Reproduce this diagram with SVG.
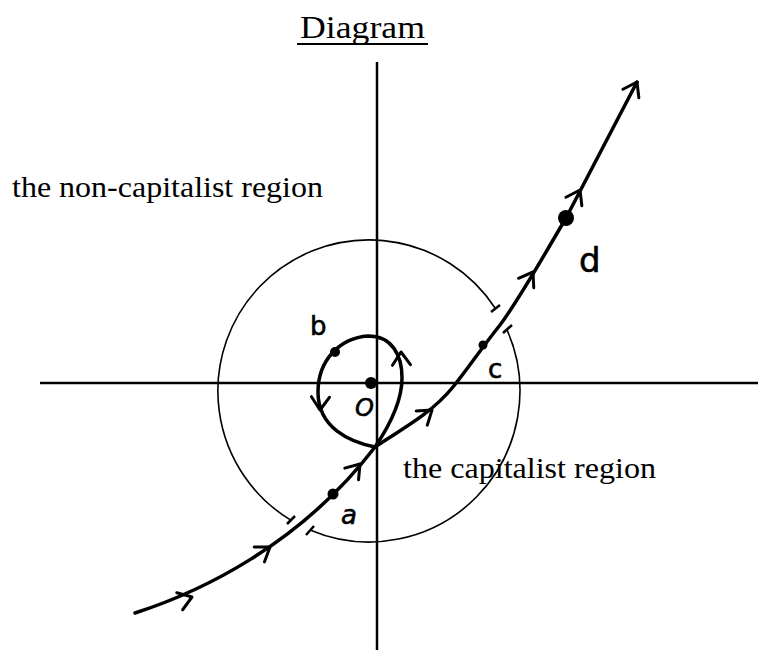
<svg xmlns="http://www.w3.org/2000/svg" width="758" height="650" viewBox="0 0 758 650">
<style>
.txt{font-family:"Liberation Serif","Times New Roman",serif;fill:#000}
.hand{font-family:"DejaVu Sans",sans-serif;fill:#000;stroke:#000;stroke-width:0.6}
.axis{stroke:#000;stroke-width:2.5;fill:none}
.circ{stroke:#000;stroke-width:1.6;fill:none}
.traj{stroke:#000;stroke-width:3.5;fill:none;stroke-linecap:round;stroke-linejoin:round}
.chev{stroke:#000;stroke-width:3;fill:none;stroke-linecap:round;stroke-linejoin:round}
</style>
<defs>
<path id="ch" d="M-13,-9 L0,0 L-13,9" class="chev"/>
</defs>
<rect width="758" height="650" fill="#fff"/>
<g id="title">
<text x="300" y="38" class="txt" font-size="31" textLength="125" lengthAdjust="spacingAndGlyphs">Diagram</text>
<line x1="297" y1="44" x2="428" y2="44" stroke="#000" stroke-width="2"/>
</g>
<g id="axes">
<line x1="377" y1="62" x2="377" y2="650" class="axis"/>
<line x1="40" y1="383" x2="758" y2="383" class="axis"/>
</g>
<g id="capitalist-region">
<path d="M506.9,329.6 A151,151 0 0 1 310,530" class="circ"/>
<path d="M291.2,520.4 A151,151 0 1 1 495.6,308.8" class="circ"/>
<line x1="503" y1="333" x2="512" y2="325" stroke="#000" stroke-width="2.5"/>
<line x1="306" y1="535" x2="314" y2="526" stroke="#000" stroke-width="2.5"/>
<line x1="287" y1="524" x2="295" y2="516" stroke="#000" stroke-width="2.5"/>
<line x1="491" y1="312" x2="500" y2="305" stroke="#000" stroke-width="2.5"/>
<text x="403" y="478" class="txt" font-size="29" textLength="253" lengthAdjust="spacingAndGlyphs">the capitalist region</text>
</g>
<g id="non-capitalist-region">
<text x="12" y="197" class="txt" font-size="29" textLength="311" lengthAdjust="spacingAndGlyphs">the non-capitalist region</text>
</g>
<g id="connectors">
<path d="M135,613 C200,592 300,545 375,447" class="traj"/>
<path d="M375,447 C400,430 430,415 453,387 C470,366 480,350 500,325 C520,298 540,262 566,218 L637,82" class="traj"/>
<path d="M375,447 C350,442 318,428 318,392 C318,360 340,338 368,336 C392,336 402,355 402,378 C402,400 390,425 375,447" class="traj" stroke-width="3.2"/>
<use href="#ch" transform="translate(192,597) rotate(-19)"/>
<use href="#ch" transform="translate(270,547) rotate(-35)"/>
<use href="#ch" transform="translate(360,464) rotate(-50)"/>
<use href="#ch" transform="translate(432,410) rotate(-38)"/>
<use href="#ch" transform="translate(533,272) rotate(-58)"/>
<use href="#ch" transform="translate(580,190) rotate(-62)"/>
<use href="#ch" transform="translate(637,82) rotate(-62)"/>
<use href="#ch" transform="translate(320,410) rotate(92)"/>
<use href="#ch" transform="translate(401,352) rotate(-92)"/>
</g>
<g id="point-O">
<circle cx="371" cy="383" r="6" fill="#000"/>
<text x="355" y="416" class="hand" font-size="24" font-style="italic">O</text>
</g>
<g id="point-a">
<circle cx="333" cy="494" r="5.5" fill="#000"/>
<text x="341" y="524" class="hand" font-size="26" font-style="italic">a</text>
</g>
<g id="point-b">
<circle cx="335" cy="352" r="5" fill="#000"/>
<text x="310" y="335" class="hand" font-size="26">b</text>
</g>
<g id="point-c">
<circle cx="483" cy="345" r="4.5" fill="#000"/>
<text x="488" y="378" class="hand" font-size="26">c</text>
</g>
<g id="point-d">
<circle cx="566" cy="218" r="8" fill="#000"/>
<text x="579" y="272" class="hand" font-size="34">d</text>
</g>
</svg>
